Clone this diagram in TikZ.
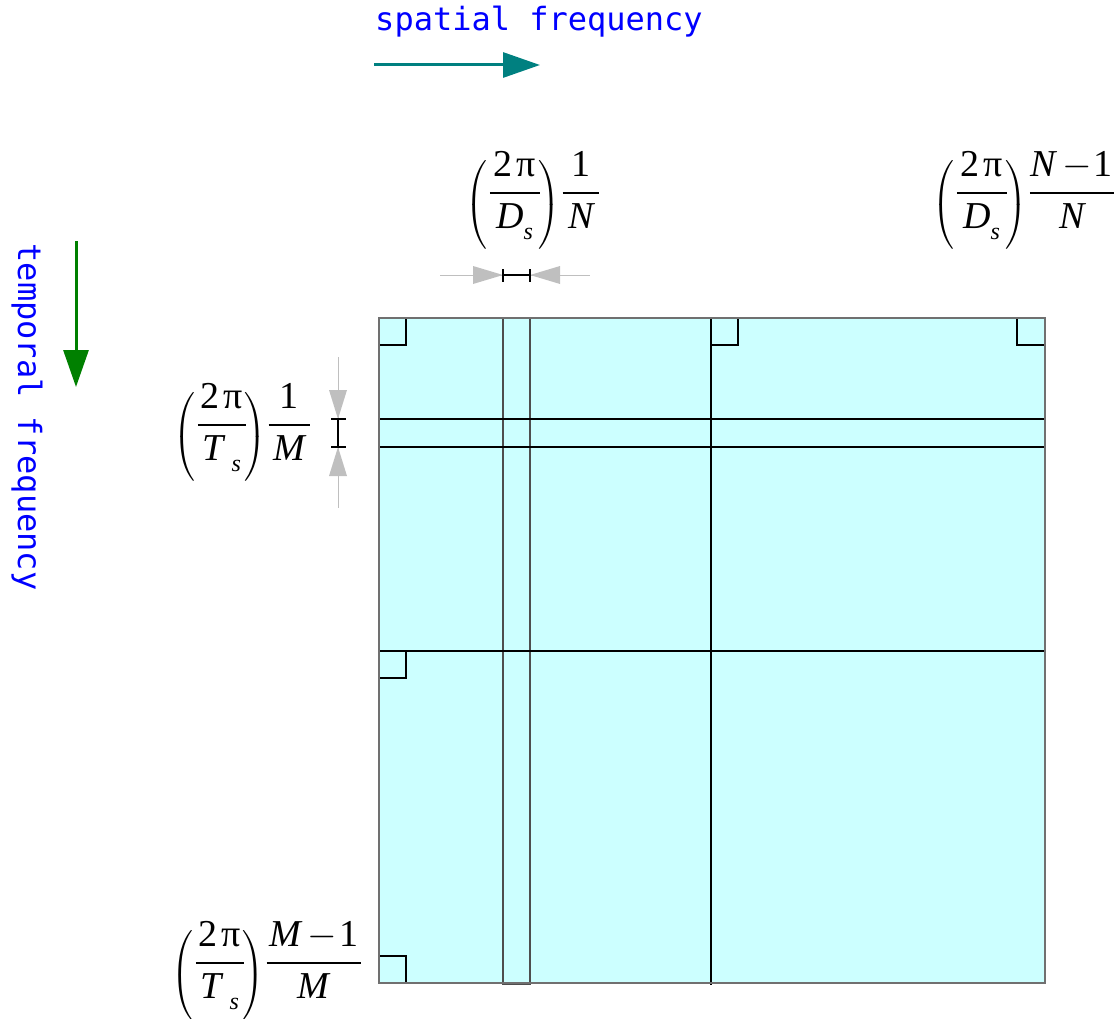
\RequirePackage{fix-cm}
\documentclass[tikz,border=0pt]{standalone}
\usepackage{amsmath}
\usepackage{fontspec}
\setmainfont{Liberation Serif}
\setmonofont{DejaVu Sans Mono}
\usetikzlibrary{arrows.meta}
\definecolor{cellfill}{HTML}{CCFFFF}
\definecolor{tealarrow}{HTML}{008080}
\definecolor{greenarrow}{HTML}{008000}
\definecolor{dimgrey}{HTML}{BFBFBF}
\definecolor{edgegrey}{HTML}{707070}
\newcommand\ti[1]{\text{\itshape #1}}
\newcommand\up[1]{\text{\upshape #1}}
\newcommand\sub[1]{_{\lower5pt\hbox{\fontsize{24}{28}\selectfont\itshape #1}}}
\newcommand\frw[3]{\genfrac{}{}{2.4pt}{0}{\makebox[#1]{$\displaystyle #2$}}{#3}}
\newcommand\lparen{\raisebox{-12pt}{$\displaystyle\left(\vrule height 52pt depth 33pt width 0pt\right.$}\kern0.5pt}
\newcommand\rparen{\kern-3.5pt\raisebox{-12pt}{$\displaystyle\left.\vrule height 52pt depth 33pt width 0pt\right)$}\kern1pt}
\newcommand\twopi{\up{2}\mkern2mu\up{π}}
\tikzset{
  gridline/.style={draw=black, line width=1.2pt},
  outerline/.style={draw=edgegrey, line width=1.8pt},
  stripline/.style={draw=edgegrey!70!black, line width=1.4pt},
  mathlabel/.style={inner sep=0pt, anchor=base west, font=\fontsize{38}{46}\selectfont},
  axislabel/.style={inner sep=0pt, text=blue, font=\fontsize{32}{38}\selectfont\ttfamily},
  bigarrow/.style={line width=3pt, -{Triangle[length=37pt,width=25pt]}},
  dimline/.style={draw=dimgrey, line width=1pt},
  dimtip/.style={fill=dimgrey},
  dimbar/.style={draw=black, line width=1.4pt},
}
\begin{document}
\begin{tikzpicture}[x=1pt,y=-1pt]
\useasboundingbox (0,0) rectangle (1118,1019);

% axis labels and arrows
\node[axislabel] (spat) at (539,22) {spatial frequency};
\coordinate (sa1) at (374,65);
\coordinate (sa2) at (540,65);
\draw[bigarrow, draw=tealarrow, fill=tealarrow] (sa1) -- (sa2);

\node[axislabel, rotate=-90] (temp) at (27,417) {temporal frequency};
\coordinate (ta1) at (76,241);
\coordinate (ta2) at (76,387);
\draw[bigarrow, draw=greenarrow, fill=greenarrow] (ta1) -- (ta2);

% grid
\fill[cellfill] (379,318) rectangle (1045,983);
\draw[stripline] (503,318) rectangle (530,984);
\draw[gridline] (379,419) rectangle (1045,447);
\draw[gridline] (711,318) -- (711,985);
\draw[gridline] (379,651) -- (1045,651);
\draw[gridline] (379,318) rectangle (406,345);
\draw[gridline] (711,318) rectangle (738,345);
\draw[gridline] (1017,318) rectangle (1045,345);
\draw[gridline] (379,651) rectangle (406,678);
\draw[gridline] (379,956) rectangle (406,983);
\draw[outerline] (379,318) rectangle (1045,983);

% top dimension marker
\coordinate (hl) at (440,275);
\coordinate (hr) at (590,275);
\draw[dimline] (hl) -- (hr);
\fill[dimtip] (473,266) -- (503,275) -- (473,284) -- cycle;
\fill[dimtip] (560,266) -- (530,275) -- (560,284) -- cycle;
\coordinate (ha) at (503,275);
\coordinate (hb) at (530,275);
\draw[dimbar] (ha) -- (hb);
\draw[dimbar] (503,269) -- (503,282);
\draw[dimbar] (530,269) -- (530,282);

% left dimension marker
\coordinate (vt) at (338,357);
\coordinate (vb) at (338,508);
\draw[dimline] (vt) -- (vb);
\fill[dimtip] (329,390) -- (338,419) -- (347,390) -- cycle;
\fill[dimtip] (329,476) -- (338,447) -- (347,476) -- cycle;
\coordinate (va) at (338,419);
\coordinate (vc) at (338,447);
\draw[dimbar] (va) -- (vc);
\draw[dimbar] (331,419) -- (346,419);
\draw[dimbar] (331,447) -- (346,447);

% math labels
\node[mathlabel] (lab1) at (465,202.5)
  {$\lparen\frw{50pt}{\twopi}{\ti{D}\sub{s}}\rparen\frw{36pt}{\up{1}}{\ti{N}}$};
\node[mathlabel] (lab2) at (932,202.5)
  {$\lparen\frw{50pt}{\twopi}{\ti{D}\sub{s}}\rparen\frw{84pt}{\ti{N}\mkern3mu{-}\mkern1mu\up{1}}{\ti{N}}$};
\node[mathlabel] (lab3) at (173,434.5)
  {$\lparen\frw{48pt}{\twopi}{\ti{T}\mkern4mu\sub{s}}\rparen\frw{41pt}{\up{1}}{\ti{M}}$};
\node[mathlabel] (lab4) at (171,972.5)
  {$\lparen\frw{48pt}{\twopi}{\ti{T}\mkern4mu\sub{s}}\rparen\frw{94pt}{\ti{M}\mkern3mu{-}\mkern1mu\up{1}}{\ti{M}}$};
\end{tikzpicture}
\end{document}
